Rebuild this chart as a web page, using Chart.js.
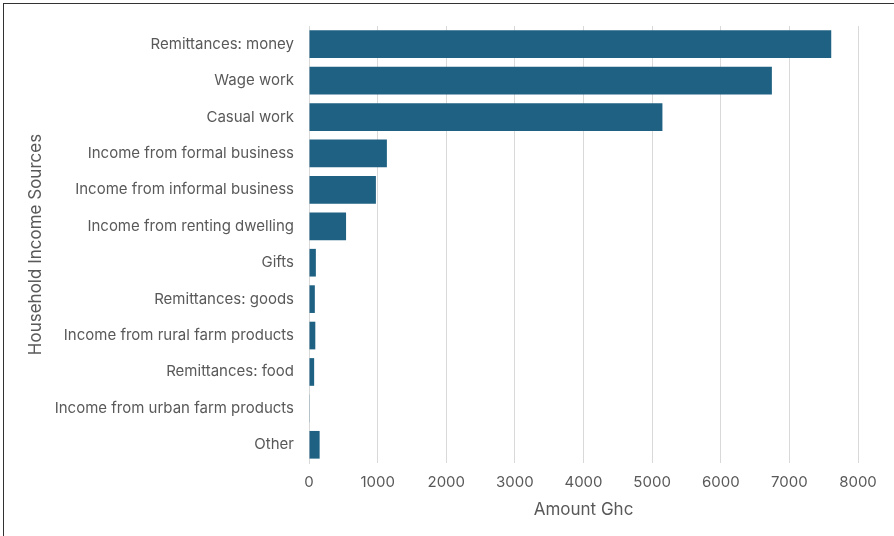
<!DOCTYPE html>
<html>
<head>
<meta charset="utf-8">
<script src="https://cdn.jsdelivr.net/npm/chart.js@4.4.0/dist/chart.umd.min.js"></script>
<style>
  html, body { margin: 0; padding: 0; background: #fff; }
  #wrap { position: relative; width: 894px; height: 536px; overflow: hidden; }
  #frame { position: absolute; left: 3px; top: 3px; width: 900px; height: 540px; border: 1px solid #333; box-sizing: border-box; pointer-events: none; }
  canvas { position: absolute; left: 0; top: 0; }
</style>
</head>
<body>
<div id="wrap">
  <canvas id="incomeChart" width="894" height="536"></canvas>
  <div id="frame"></div>
</div>
<script>
// Household income sources, amount in Ghc
const categories = [
    'Remittances: money',
    'Wage work',
    'Casual work',
    'Income from formal business',
    'Income from informal business',
    'Income from renting dwelling',
    'Gifts',
    'Remittances: goods',
    'Income from rural farm products',
    'Remittances: food',
    'Income from urban farm products',
    'Other'
];
const amounts = [7610, 6745, 5150, 1135, 975, 540, 100, 85, 92, 75, 10, 155];
const xTicks = [0, 1000, 2000, 3000, 4000, 5000, 6000, 7000, 8000];

const textColor = '#595959';
const fontFamily = 'Inter, "Noto Sans", sans-serif';

const ctx = document.getElementById('incomeChart').getContext('2d');
new Chart(ctx, {
    type: 'bar',
    data: {
        labels: categories,
        datasets: [{
            data: amounts,
            backgroundColor: '#1f6182',
            borderWidth: 0,
            barPercentage: 0.76,
            categoryPercentage: 1.0
        }]
    },
    options: {
        indexAxis: 'y',
        responsive: false,
        animation: false,
        layout: {
            padding: { left: 22, right: 36, top: 26, bottom: 12 }
        },
        plugins: {
            legend: { display: false },
            tooltip: { enabled: false }
        },
        scales: {
            x: {
                min: 0,
                max: 8000,
                afterBuildTicks: function(scale) {
                    scale.ticks = xTicks.map(v => ({ value: v }));
                },
                // fixed axis height so the plot ends at the same place as the original
                afterFit: function(scale) {
                    scale.height = 61;
                },
                grid: {
                    color: '#d9d9d9',
                    drawTicks: false
                },
                border: { display: false },
                ticks: {
                    color: textColor,
                    padding: 10,
                    font: { family: fontFamily, size: 15 },
                    callback: function(value) {
                        return String(value);
                    }
                },
                title: {
                    display: true,
                    text: 'Amount Ghc',
                    color: textColor,
                    padding: { top: 4, bottom: 4 },
                    font: { family: fontFamily, size: 17 }
                }
            },
            y: {
                afterFit: function(scale) {
                    scale.width = 287;
                },
                grid: { display: false, drawTicks: false },
                border: { display: true, color: '#d9d9d9' },
                ticks: {
                    color: textColor,
                    padding: 15,
                    font: { family: fontFamily, size: 15 }
                },
                title: {
                    display: true,
                    text: 'Household Income Sources',
                    color: textColor,
                    font: { family: fontFamily, size: 17 }
                }
            }
        }
    }
});
</script>
</body>
</html>
